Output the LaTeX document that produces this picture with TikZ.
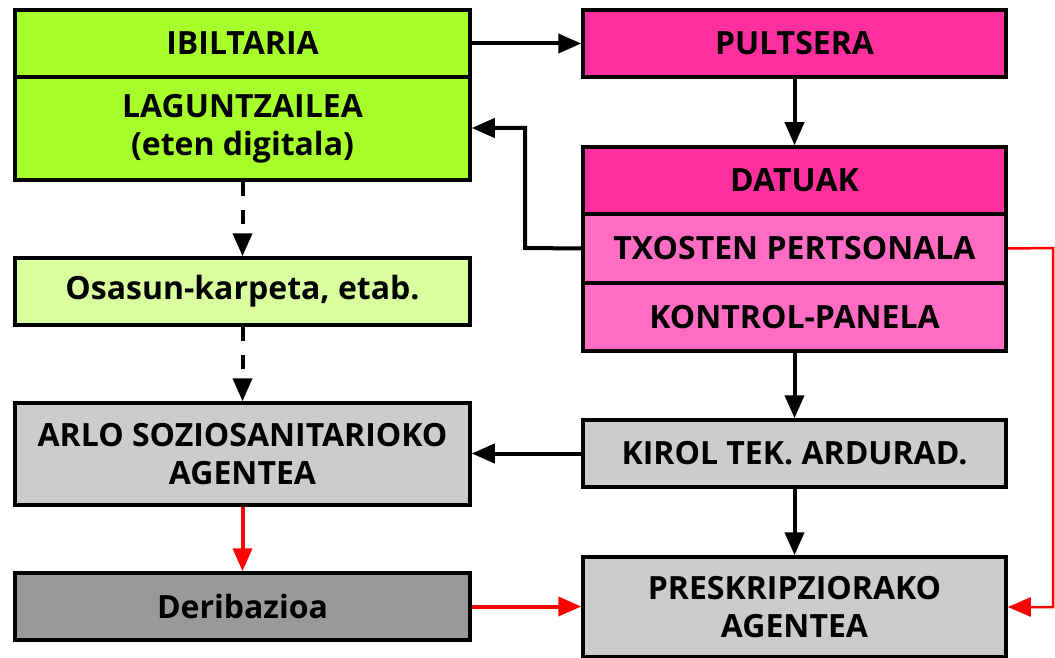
\documentclass[tikz,border=0pt]{standalone}
\usepackage{fontspec}
\setmainfont{Open Sans}
\usetikzlibrary{arrows.meta}
\definecolor{lgreen}{HTML}{A6FF2A}
\definecolor{pgreen}{HTML}{D9FF9F}
\definecolor{mag}{HTML}{FF2FA0}
\definecolor{lmag}{HTML}{FF6CC4}
\definecolor{lgray}{HTML}{CCCCCC}
\definecolor{dgray}{HTML}{999999}
\definecolor{myred}{HTML}{FF0000}
\tikzset{
  box/.style={draw=black, line width=3.5pt, minimum width=455pt, inner sep=0pt, align=center,
    font=\fontsize{32}{38}\selectfont\bfseries},
  rbox/.style={box, minimum width=423pt},
  arr/.style={line width=4pt, -{Triangle[length=23pt,width=19pt]}},
  darr/.style={arr, dash pattern=on 14pt off 14pt},
  redarr/.style={arr, draw=myred, fill=myred},
  thinred/.style={line width=2.5pt, draw=myred, -{Triangle[length=23pt,width=19pt,fill=myred]}}
}
\begin{document}
\begin{tikzpicture}[x=1pt,y=-1pt]
\useasboundingbox (0,0) rectangle (1055,658);
% left column
\node[box, fill=lgreen, minimum height=67pt] (ib) at (242.5,43.5) {IBILTARIA};
\node[box, fill=lgreen, minimum height=103pt] (lag) at (242.5,128.5) {LAGUNTZAILEA\\(eten digitala)};
\node[box, fill=pgreen, minimum height=67pt] (os) at (242.5,291.5) {Osasun-karpeta, etab.};
\node[box, fill=lgray, minimum height=102pt] (arlo) at (242.5,454) {ARLO SOZIOSANITARIOKO\\AGENTEA};
\node[box, fill=dgray, minimum height=67pt] (der) at (242.5,606.5) {Deribazioa};
% right column
\node[rbox, fill=mag, minimum height=67pt] (pul) at (794.5,43.5) {PULTSERA};
\node[rbox, fill=mag, minimum height=67pt] (dat) at (794.5,180.5) {DATUAK};
\node[rbox, fill=lmag, minimum height=69pt] (tx) at (794.5,248.5) {TXOSTEN PERTSONALA};
\node[rbox, fill=lmag, minimum height=68pt] (kon) at (794.5,317) {KONTROL-PANELA};
\node[rbox, fill=lgray, minimum height=67pt] (kir) at (794.5,453.5) {KIROL TEK. ARDURAD.};
\node[rbox, fill=lgray, minimum height=100pt] (pre) at (794.5,607) {PRESKRIPZIORAKO\\AGENTEA};
\coordinate (c1) at (525,248);
\coordinate (c2) at (525,128);
\coordinate (r1) at (1053,248);
\coordinate (r2) at (1053,607);
% connectors
\draw[arr] (ib.east) -- (pul.west |- ib.east);
\draw[arr] (pul.south) -- (dat.north);
\draw[arr] (tx.west) -- (c1) -- (c2) -- (lag.east |- c2);
\draw[darr] (lag.south) -- (os.north);
\draw[darr] (os.south) -- (arlo.north);
\draw[arr] (kon.south) -- (kir.north);
\draw[arr] (kir.west) -- (arlo.east |- kir.west);
\draw[arr] (kir.south) -- (pre.north);
\draw[redarr] (arlo.south) -- (der.north);
\draw[redarr] (der.east) -- (pre.west |- der.east);
\draw[thinred] (tx.east) -- (r1) -- (r2) -- (pre.east);
\end{tikzpicture}
\end{document}
